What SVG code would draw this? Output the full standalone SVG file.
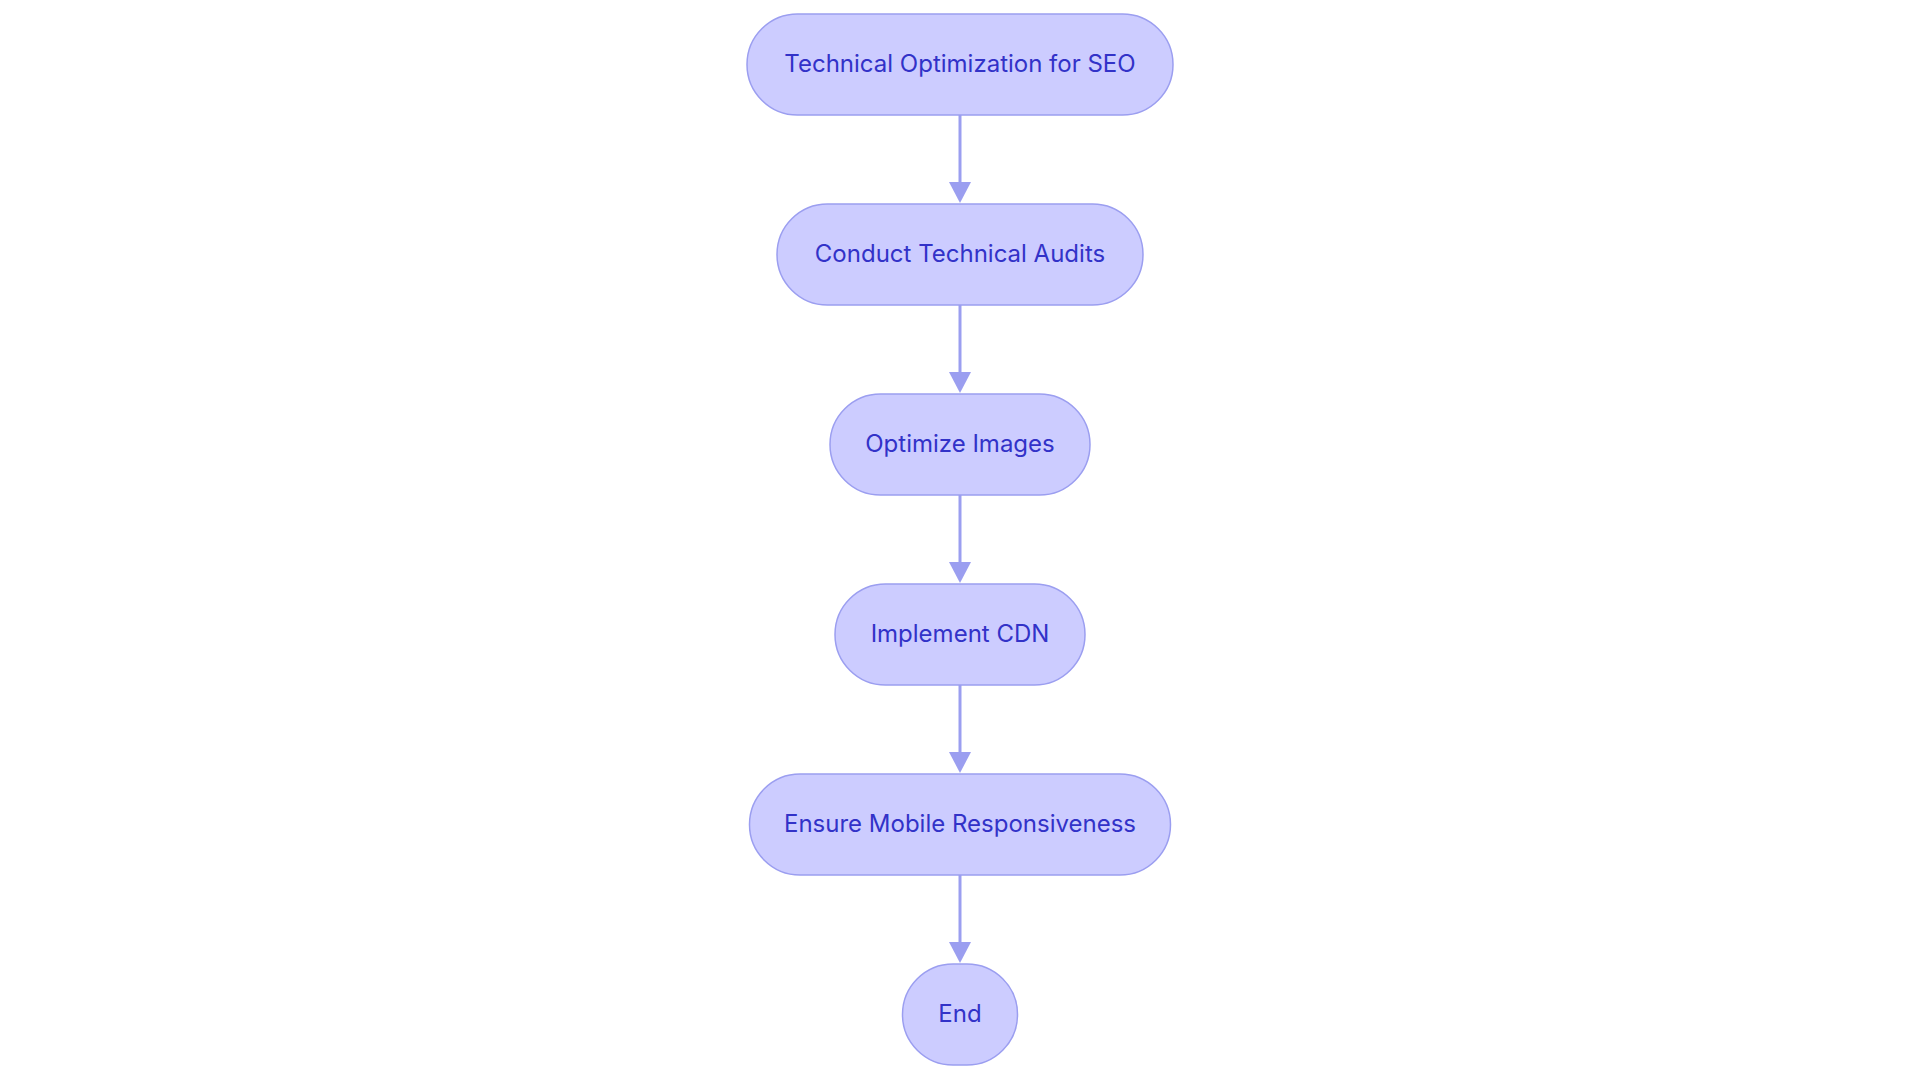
<svg xmlns="http://www.w3.org/2000/svg" width="1920" height="1083" viewBox="0 0 1920 1083">
<style>
.n rect{fill:#ccccff;stroke:#9b9ef0;stroke-width:1.5}
.n text{font-family:Inter,"Liberation Sans",sans-serif;font-size:24px;fill:#3232c8;text-anchor:middle;dominant-baseline:central}
.e{stroke:#9b9ef0;stroke-width:3;fill:none;marker-end:url(#a)}
</style>
<defs><marker id="a" markerWidth="8" markerHeight="8" refX="7" refY="4" orient="auto" markerUnits="userSpaceOnUse" viewBox="0 0 8 8"><path d="M0,0L8,4L0,8z" fill="#9b9ef0"/></marker></defs>
<rect width="1920" height="1083" fill="#fff"/>
<g id="edges">
<path class="e" d="M960,115V190" style="marker-end:none"/><path d="M949,182L971,182L960,203z" fill="#9b9ef0"/>
<path class="e" d="M960,305V380" style="marker-end:none"/><path d="M949,372L971,372L960,393z" fill="#9b9ef0"/>
<path class="e" d="M960,495V570" style="marker-end:none"/><path d="M949,562L971,562L960,583z" fill="#9b9ef0"/>
<path class="e" d="M960,685V760" style="marker-end:none"/><path d="M949,752L971,752L960,773z" fill="#9b9ef0"/>
<path class="e" d="M960,875V950" style="marker-end:none"/><path d="M949,942L971,942L960,963z" fill="#9b9ef0"/>
</g>
<g id="n1" class="n"><rect x="747" y="14" width="426" height="101" rx="50.5"/><text x="960" y="63">Technical Optimization for SEO</text></g>
<g id="n2" class="n"><rect x="777" y="204" width="366" height="101" rx="50.5"/><text x="960" y="253">Conduct Technical Audits</text></g>
<g id="n3" class="n"><rect x="830" y="394" width="260" height="101" rx="50.5"/><text x="960" y="443">Optimize Images</text></g>
<g id="n4" class="n"><rect x="835" y="584" width="250" height="101" rx="50.5"/><text x="960" y="633">Implement CDN</text></g>
<g id="n5" class="n"><rect x="749.5" y="774" width="421" height="101" rx="50.5"/><text x="960" y="823">Ensure Mobile Responsiveness</text></g>
<g id="n6" class="n"><rect x="902.5" y="964" width="115" height="101" rx="50.5"/><text x="960" y="1013">End</text></g>
</svg>
